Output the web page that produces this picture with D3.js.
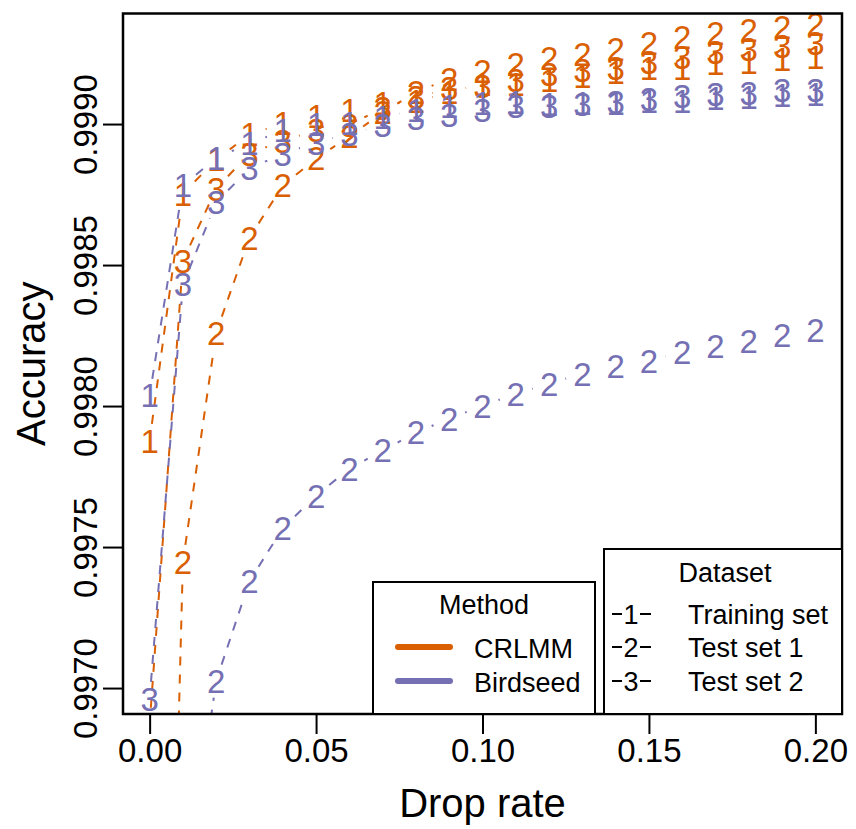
<!DOCTYPE html>
<html><head><meta charset="utf-8">
<script src="https://cdn.jsdelivr.net/npm/d3@7"></script>
<style>
html,body{margin:0;padding:0;background:#fff;}
svg text{font-family:"Liberation Sans",Arial,Helvetica,sans-serif;}
</style></head>
<body><svg id="chart" width="856" height="829"></svg>
<script>
// ---- data ----
const dropRate = [0.00,0.01,0.02,0.03,0.04,0.05,0.06,0.07,0.08,0.09,0.10,0.11,0.12,0.13,0.14,0.15,0.16,0.17,0.18,0.19,0.20];
const crlmmTrain = [0.997877,0.998753,0.998874,0.998963,0.999002,0.999027,0.999048,0.999073,0.999080,0.999112,0.999143,0.999143,0.999154,0.999169,0.999183,0.999197,0.999197,0.999215,0.999218,0.999232,0.999239];
const crlmmTest1 = [0.993000,0.997448,0.998260,0.998597,0.998782,0.998878,0.998956,0.999041,0.999112,0.999161,0.999186,0.999211,0.999233,0.999247,0.999264,0.999286,0.999307,0.999321,0.999332,0.999342,0.999356];
const crlmmTest2 = [0.996870,0.998515,0.998771,0.998895,0.998941,0.998977,0.998995,0.999058,0.999094,0.999126,0.999133,0.999154,0.999176,0.999190,0.999200,0.999218,0.999236,0.999254,0.999264,0.999278,0.999286];
const birdTrain = [0.998037,0.998782,0.998880,0.998931,0.998977,0.998998,0.999005,0.999023,0.999051,0.999062,0.999073,0.999076,0.999069,0.999073,0.999073,0.999080,0.999083,0.999091,0.999094,0.999101,0.999105];
const birdTest1 = [0.992800,0.996200,0.997026,0.997379,0.997567,0.997682,0.997778,0.997842,0.997906,0.997955,0.998001,0.998044,0.998079,0.998115,0.998140,0.998161,0.998190,0.998214,0.998232,0.998250,0.998268];
const birdTest2 = [0.996962,0.998431,0.998722,0.998842,0.998895,0.998934,0.998966,0.998995,0.999020,0.999030,0.999048,0.999062,0.999062,0.999069,0.999076,0.999090,0.999098,0.999105,0.999108,0.999119,0.999122];

const methods = ["CRLMM","Birdseed"];
const methodColors = ["#D95F02","#7570B3"];
const datasets = ["Training set","Test set 1","Test set 2"];
const datasetSymbols = ["1","2","3"];
const xTicks = [0,0.05,0.10,0.15,0.20];
const yTicks = [0.9970,0.9975,0.9980,0.9985,0.9990];
const xLabel = "Drop rate", yLabel = "Accuracy";

const series = [
  {m:0,d:0,vals:crlmmTrain},{m:0,d:1,vals:crlmmTest1},{m:0,d:2,vals:crlmmTest2},
  {m:1,d:0,vals:birdTrain},{m:1,d:1,vals:birdTest1},{m:1,d:2,vals:birdTest2}
];

// ---- layout ----
const L=123,R=842,T=13.5,B=714;
const svg=d3.select("#chart");
const x=d3.scaleLinear().domain([-0.008,0.208]).range([L,R]);
const y=d3.scaleLinear().domain([0.996908,0.999392]).range([B,T]);

svg.append("defs").append("clipPath").attr("id","clip")
  .append("rect").attr("x",L).attr("y",T).attr("width",R-L).attr("height",B-T);

const plot=svg.append("g").attr("clip-path","url(#clip)");
const gap=17;
series.forEach(s=>{
  const col=methodColors[s.m];
  const pts=dropRate.map((d,i)=>[x(d),y(s.vals[i])]);
  const g=plot.append("g");
  for(let i=0;i<pts.length-1;i++){
    const [x0,y0]=pts[i],[x1,y1]=pts[i+1];
    const dist=Math.hypot(x1-x0,y1-y0);
    if(dist<=2*gap) continue;
    const f=gap/dist;
    g.append("line")
      .attr("x1",x0+f*(x1-x0)).attr("y1",y0+f*(y1-y0))
      .attr("x2",x1-f*(x1-x0)).attr("y2",y1-f*(y1-y0))
      .attr("stroke",col).attr("stroke-width",2).attr("stroke-dasharray","9,9");
  }
  // symbols (those lying entirely outside the plot region are clipped away anyway)
  g.selectAll("text.pt").data(pts.filter(p=>p[1]<B+20)).enter().append("text")
    .attr("x",p=>p[0]).attr("y",p=>p[1]).attr("dy","0.36em")
    .attr("text-anchor","middle").attr("font-size",33).attr("fill",col)
    .text(datasetSymbols[s.d]);
});

// ---- axes ----
const xAxis=svg.append("g").attr("transform",`translate(0,${B})`)
  .call(d3.axisBottom(x).tickValues(xTicks).tickFormat(d3.format(".2f")).tickSize(20).tickSizeOuter(0));
xAxis.select(".domain").remove();
xAxis.selectAll("line").attr("stroke","#000").attr("stroke-width",2);
xAxis.selectAll("text").attr("y",48).attr("dy",0).attr("font-size",33).attr("fill","#000");

const yAxis=svg.append("g").attr("transform",`translate(${L},0)`)
  .call(d3.axisLeft(y).tickValues(yTicks).tickFormat(d3.format(".4f")).tickSize(20).tickSizeOuter(0));
yAxis.select(".domain").remove();
yAxis.selectAll("line").attr("stroke","#000").attr("stroke-width",2);
yAxis.selectAll("text").attr("transform","rotate(-90)").attr("x",0).attr("y",-26).attr("dy",0)
  .attr("text-anchor","middle").attr("font-size",33).attr("fill","#000");

svg.append("rect").attr("x",L).attr("y",T).attr("width",R-L).attr("height",B-T)
  .attr("fill","none").attr("stroke","#000").attr("stroke-width",2.5);

svg.append("text").attr("x",(L+R)/2).attr("y",817).attr("text-anchor","middle")
  .attr("font-size",40).text(xLabel);
svg.append("text").attr("transform",`translate(45,${(T+B)/2}) rotate(-90)`).attr("text-anchor","middle")
  .attr("font-size",40).text(yLabel);

// ---- legends ----
const lg1=svg.append("g");
lg1.append("rect").attr("x",373).attr("y",582).attr("width",222).attr("height",B-582)
  .attr("fill","#fff").attr("stroke","#000").attr("stroke-width",2);
lg1.append("text").attr("x",484).attr("y",614).attr("text-anchor","middle").attr("font-size",27).text("Method");
methods.forEach((m,i)=>{
  const yy=[647,681][i];
  lg1.append("line").attr("x1",398).attr("x2",450).attr("y1",yy).attr("y2",yy)
    .attr("stroke",methodColors[i]).attr("stroke-width",6).attr("stroke-linecap","round");
  lg1.append("text").attr("x",474).attr("y",yy+11).attr("font-size",27).text(m);
});

const lg2=svg.append("g");
lg2.append("rect").attr("x",604).attr("y",549).attr("width",R-604).attr("height",B-549)
  .attr("fill","#fff").attr("stroke","#000").attr("stroke-width",2);
lg2.append("text").attr("x",725).attr("y",582).attr("text-anchor","middle").attr("font-size",27).text("Dataset");
datasets.forEach((d,i)=>{
  const base=[624,657,691][i], mid=base-10;
  lg2.append("line").attr("x1",612).attr("x2",622).attr("y1",mid).attr("y2",mid).attr("stroke","#000").attr("stroke-width",2);
  lg2.append("line").attr("x1",640).attr("x2",651).attr("y1",mid).attr("y2",mid).attr("stroke","#000").attr("stroke-width",2);
  lg2.append("text").attr("x",631).attr("y",base).attr("text-anchor","middle").attr("font-size",27).text(datasetSymbols[i]);
  lg2.append("text").attr("x",688).attr("y",base).attr("font-size",27).text(d);
});
</script></body></html>
